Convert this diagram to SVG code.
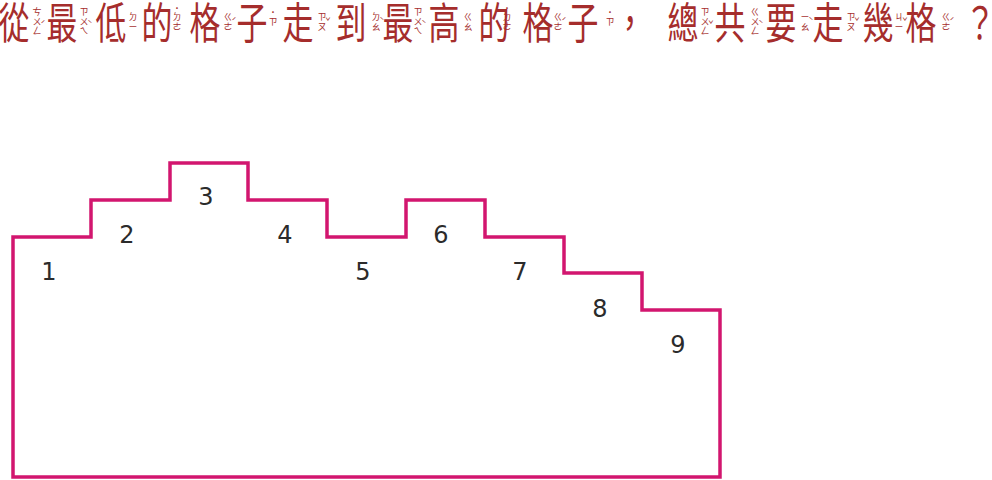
<svg xmlns="http://www.w3.org/2000/svg" width="992" height="480" viewBox="0 0 992 480">
<style>
.t{font-family:"Noto Sans CJK TC","Noto Sans CJK SC",sans-serif;font-size:43px;fill:#a52d2c;text-anchor:middle}
.b{font-family:"Noto Sans CJK TC","Noto Sans CJK SC",sans-serif;font-size:9px;fill:#a52d2c;text-anchor:middle}
.n{font-family:"DejaVu Sans","Liberation Sans",sans-serif;font-size:24px;fill:#2b2b2b;text-anchor:middle}
.outline{fill:#ffffff;stroke:#d2166f;stroke-width:3.5;stroke-linejoin:miter}
</style>
<rect width="992" height="480" fill="#ffffff"/>
<g id="title">
<text class="t" transform="translate(14 39) scale(0.72 1)">從</text>
<text class="t" transform="translate(62 39) scale(0.72 1)">最</text>
<text class="t" transform="translate(111 39) scale(0.72 1)">低</text>
<text class="t" transform="translate(157 39) scale(0.72 1)">的</text>
<text class="t" transform="translate(205 39) scale(0.72 1)">格</text>
<text class="t" transform="translate(252 39) scale(0.72 1)">子</text>
<text class="t" transform="translate(298 39) scale(0.72 1)">走</text>
<text class="t" transform="translate(351 39) scale(0.72 1)">到</text>
<text class="t" transform="translate(398 39) scale(0.72 1)">最</text>
<text class="t" transform="translate(444 39) scale(0.72 1)">高</text>
<text class="t" transform="translate(494 39) scale(0.72 1)">的</text>
<text class="t" transform="translate(538 39) scale(0.72 1)">格</text>
<text class="t" transform="translate(583 39) scale(0.72 1)">子</text>
<text class="t" transform="translate(630 39) scale(0.72 1)">，</text>
<text class="t" transform="translate(683 39) scale(0.72 1)">總</text>
<text class="t" transform="translate(730 39) scale(0.72 1)">共</text>
<text class="t" transform="translate(781 39) scale(0.72 1)">要</text>
<text class="t" transform="translate(828 39) scale(0.72 1)">走</text>
<text class="t" transform="translate(878 39) scale(0.72 1)">幾</text>
<text class="t" transform="translate(921 39) scale(0.72 1)">格</text>
<text class="t" transform="translate(980 39) scale(0.72 1)">？</text>
</g>
<g id="bopomofo">
<text class="b" x="37" y="15">ㄘ</text><text class="b" x="37" y="24.5">ㄨ</text><text class="b" x="37" y="34">ㄥ</text><text class="b" x="43" y="28">ˊ</text>
<text class="b" x="84" y="15">ㄗ</text><text class="b" x="84" y="24.5">ㄨ</text><text class="b" x="84" y="34">ㄟ</text><text class="b" x="90" y="28">ˋ</text>
<text class="b" x="133" y="20">ㄉ</text><text class="b" x="133" y="29.5">ㄧ</text>
<text class="b" x="177" y="12">˙</text><text class="b" x="177" y="20">ㄉ</text><text class="b" x="177" y="29.5">ㄜ</text>
<text class="b" x="228" y="20">ㄍ</text><text class="b" x="228" y="29.5">ㄜ</text><text class="b" x="234" y="25">ˊ</text>
<text class="b" x="273" y="16">˙</text><text class="b" x="273" y="25">ㄗ</text>
<text class="b" x="322" y="20">ㄗ</text><text class="b" x="322" y="29.5">ㄡ</text><text class="b" x="328" y="25">ˇ</text>
<text class="b" x="376" y="20">ㄉ</text><text class="b" x="376" y="29.5">ㄠ</text><text class="b" x="382" y="25">ˋ</text>
<text class="b" x="418" y="15">ㄗ</text><text class="b" x="418" y="24.5">ㄨ</text><text class="b" x="418" y="34">ㄟ</text><text class="b" x="424" y="28">ˋ</text>
<text class="b" x="468" y="20">ㄍ</text><text class="b" x="468" y="29.5">ㄠ</text>
<text class="b" x="507" y="12">˙</text><text class="b" x="507" y="20">ㄉ</text><text class="b" x="507" y="29.5">ㄜ</text>
<text class="b" x="558" y="20">ㄍ</text><text class="b" x="558" y="29.5">ㄜ</text><text class="b" x="564" y="25">ˊ</text>
<text class="b" x="610" y="16">˙</text><text class="b" x="610" y="25">ㄗ</text>
<text class="b" x="705" y="15">ㄗ</text><text class="b" x="705" y="24.5">ㄨ</text><text class="b" x="705" y="34">ㄥ</text><text class="b" x="711" y="28">ˇ</text>
<text class="b" x="755" y="15">ㄍ</text><text class="b" x="755" y="24.5">ㄨ</text><text class="b" x="755" y="34">ㄥ</text><text class="b" x="761" y="28">ˋ</text>
<text class="b" x="805" y="20">ㄧ</text><text class="b" x="805" y="29.5">ㄠ</text><text class="b" x="811" y="25">ˋ</text>
<text class="b" x="851" y="20">ㄗ</text><text class="b" x="851" y="29.5">ㄡ</text><text class="b" x="857" y="25">ˇ</text>
<text class="b" x="899" y="20">ㄐ</text><text class="b" x="899" y="29.5">ㄧ</text><text class="b" x="905" y="25">ˇ</text>
<text class="b" x="946" y="20">ㄍ</text><text class="b" x="946" y="29.5">ㄜ</text><text class="b" x="952" y="25">ˊ</text>
</g>
<g id="shape">
<path class="outline" d="M13,477 V237 H91 V200 H170 V163 H248 V200 H327 V237 H406 V200 H485 V237 H564 V273 H642 V310 H720 V477 Z"/>
</g>
<g id="cell-1"><text class="n" x="49" y="280">1</text></g>
<g id="cell-2"><text class="n" x="127" y="243">2</text></g>
<g id="cell-3"><text class="n" x="206" y="205">3</text></g>
<g id="cell-4"><text class="n" x="285" y="243">4</text></g>
<g id="cell-5"><text class="n" x="363" y="280">5</text></g>
<g id="cell-6"><text class="n" x="441" y="243">6</text></g>
<g id="cell-7"><text class="n" x="520" y="280">7</text></g>
<g id="cell-8"><text class="n" x="600" y="317">8</text></g>
<g id="cell-9"><text class="n" x="678" y="353">9</text></g>
</svg>
